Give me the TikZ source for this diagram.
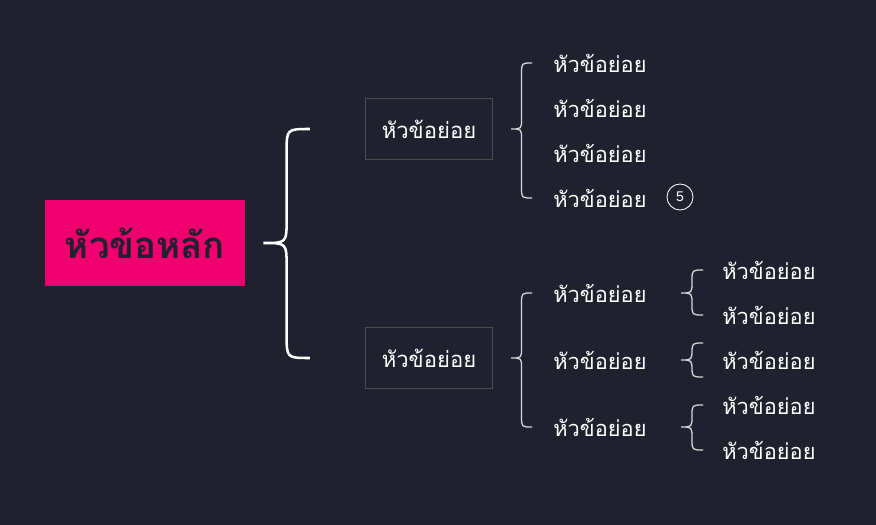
\documentclass[tikz,border=0pt]{standalone}
\usepackage{fontspec}
\newfontfamily\thaifont[Script=Thai]{Loma}
\setsansfont{Liberation Sans}
\usetikzlibrary{calc, positioning}
\definecolor{bgdark}{HTML}{1F222E}
\definecolor{hotpink}{HTML}{F0006E}
\definecolor{boxgray}{HTML}{4C4C4C}
\definecolor{bracegray}{HTML}{D8D8D8}

\newcommand{\curlybrace}[4][]{%
  \draw[#1] let \p1=(#2), \p2=(#3), \p3=(#4), \n1={(\x2-\x1)/2} in
    (\x2,\y2) .. controls (\x1+\n1,\y2) .. (\x1+\n1,\y2-\n1)
    -- (\x1+\n1,\y1+\n1) .. controls (\x1+\n1,\y1) .. (\x1,\y1)
    .. controls (\x1+\n1,\y1) .. (\x1+\n1,\y1-\n1)
    -- (\x1+\n1,\y3+\n1) .. controls (\x1+\n1,\y3) .. (\x3,\y3);}

\begin{document}
\begin{tikzpicture}[
      x=0.025cm, y=-0.025cm,
      mainbox/.style={fill=hotpink, minimum width=5cm, minimum height=2.125cm, text=bgdark, font=\thaifont\bfseries\fontsize{26}{28}\selectfont},
      subbox/.style={draw=boxgray, line width=0.8pt, minimum width=3.175cm, minimum height=1.525cm, text=white, font=\thaifont\fontsize{15.7}{18}\selectfont},
      leaf/.style={anchor=west, inner sep=0pt, text=white, font=\thaifont\fontsize{15.5}{18}\selectfont},
      badge/.style={draw=white, circle, line width=0.6pt, minimum size=0.65cm, inner sep=0pt, text=white, font=\sffamily\fontsize{10}{11}\selectfont},
      bigbrace/.style={draw=white, line width=1.8pt},
      smallbrace/.style={draw=bracegray, line width=0.9pt}
    ]
        \fill[bgdark] (0,0) rectangle (876,525);
        \useasboundingbox (0,0) rectangle (876,525);

        \node[mainbox] (main) at (145,243) {หัวข้อหลัก};
        \node[subbox] (subA) at (429,129) {หัวข้อย่อย};
        \node[subbox] (subB) at (429,358) {หัวข้อย่อย};

        \foreach \y [count=\i] in {63,108,153,198}
            \node[leaf] (a\i) at (553,\y) {หัวข้อย่อย};
        \node[badge] (num) at (680,197) {5};

        \foreach \y [count=\i] in {293,360,427}
            \node[leaf] (b\i) at (553,\y) {หัวข้อย่อย};
        \foreach \y [count=\i] in {270,315,360,405,450}
            \node[leaf] (c\i) at (722,\y) {หัวข้อย่อย};

        \curlybrace[bigbrace]{$(main.east)+(18,0)$}{$(subA.west)+(-55,0)$}{$(subB.west)+(-55,0)$}
        \curlybrace[smallbrace]{$(subA.east)+(18,0)$}{$(a1.west)+(-21,0)$}{$(a4.west)+(-21,0)$}
        \curlybrace[smallbrace]{$(subB.east)+(18,0)$}{$(b1.west)+(-21,0)$}{$(b3.west)+(-21,0)$}
        \curlybrace[smallbrace]{$(b1.west)+(128,0)$}{$(c1.west)+(-19,0)$}{$(c2.west)+(-19,0)$}
        \curlybrace[smallbrace]{$(b2.west)+(128,0)$}{$(c3.west)+(-19,-17)$}{$(c3.west)+(-19,17)$}
        \curlybrace[smallbrace]{$(b3.west)+(128,0)$}{$(c4.west)+(-19,0)$}{$(c5.west)+(-19,0)$}
    \end{tikzpicture}
\end{document}
